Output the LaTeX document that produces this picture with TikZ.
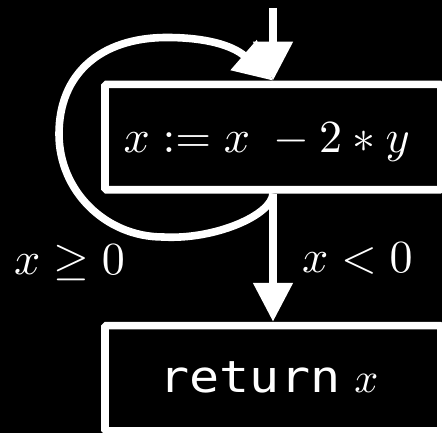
\documentclass[tikz,border=0pt]{standalone}
\usepackage{graphicx}
\usepackage{fontspec}
\newfontfamily\codefont{DejaVu Sans Mono}
\usetikzlibrary{arrows.meta}
\newcommand{\hugemath}[1]{\scalebox{4.6}{$#1$}}
\begin{document}
\begin{tikzpicture}[x=1pt,y=1pt,
  box/.style={draw=white, line width=7.6pt, minimum width=336pt, minimum height=105.3pt, inner sep=0pt, rounded corners=1.5pt},
  lbl/.style={text=white, anchor=base, inner sep=0pt},
  flow/.style={draw=white, line width=8pt, -{Triangle[width=38pt,length=39pt]}},
  loopline/.style={draw=white, line width=7.6pt, -{Triangle[width=38pt,length=39pt]}},
]
\fill[black] (0,0) rectangle (442,433);
\useasboundingbox (0,0) rectangle (442,433);
\node[box] (b1) at (273,295.9) {};
\node[box] (b2) at (273,54.75) {};
\coordinate (top) at (273,425);
\coordinate (lb) at (163,196);
\coordinate (ll) at (59,299);
\coordinate (lt) at (167,395.5);
\node[lbl] (t1) at (266.7,280.3) {\hugemath{x := x \; - 2 * y}};
\node[lbl] (t2) at (269,40) {\scalebox{5.0}[4.4]{\codefont return}\hspace{14pt}\scalebox{4.2}{$x$}};
\node[lbl] (ge) at (69.5,158) {\hugemath{x \geq 0}};
\node[lbl] (lt0) at (357.4,160) {\hugemath{x < 0}};
\draw[flow] (top) -- (b1.north);
\draw[flow] (b1.south) -- (b2.north);
\draw[loopline] (b1.south) .. controls (272,218) and (215,193) .. (lb)
  .. controls (105.6,196) and (59,242.1) .. (ll)
  .. controls (59,358.8) and (100,395.5) .. (lt)
  .. controls (205,395.5) and (232,388) .. (b1.north);
\end{tikzpicture}
\end{document}
